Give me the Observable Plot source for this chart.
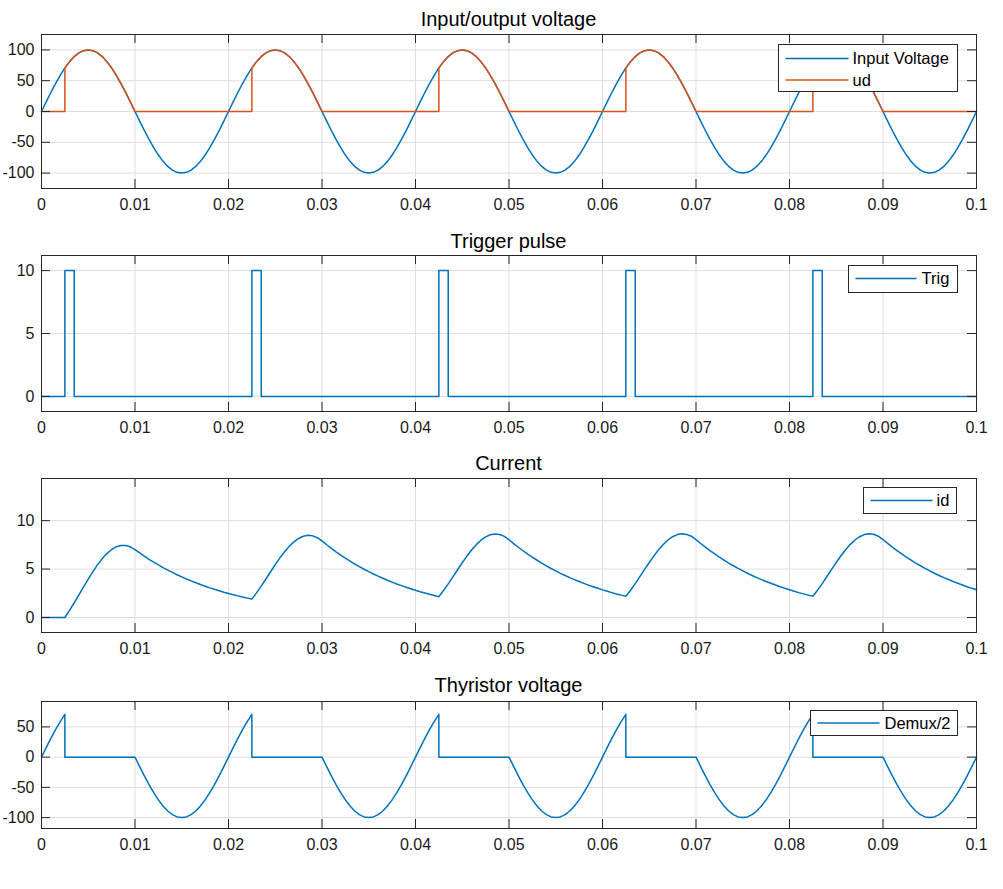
<!DOCTYPE html>
<html><head><meta charset="utf-8">
<script src="https://cdn.jsdelivr.net/npm/d3@7"></script>
<script src="https://cdn.jsdelivr.net/npm/@observablehq/plot@0.6"></script>
<style>
body{margin:0;background:#fff;}
#fig{position:relative;width:1003px;height:889px;font-family:"Liberation Sans",Arial,sans-serif;color:#262626;}
#fig svg{display:block;}
#fig svg.pan text{font-size:16px;font-family:"Liberation Sans",Arial,sans-serif;}
#overlay{position:absolute;left:0;top:0;pointer-events:none;}
</style></head><body><div id="fig"></div>
<script>
// ---------- data ----------
const xTicks = [0, 0.01, 0.02, 0.03, 0.04, 0.05, 0.06, 0.07, 0.08, 0.09, 0.1];
const titles = ["Input/output voltage", "Trigger pulse", "Current", "Thyristor voltage"];

const time = [
0,0.0005,0.001,0.0015,0.002,0.0025,0.0025,0.003,0.0035,0.004,0.0045,0.005,0.0055,0.006,0.0065,0.007,0.0075,0.008,0.0085,0.009,0.0095,0.01,0.0105,0.011,0.0115,0.012,0.0125,0.013,0.0135,0.014,0.0145,0.015,0.0155,0.016,0.0165,0.017,0.0175,0.018,0.0185,0.019,0.0195,
0.02,0.0205,0.021,0.0215,0.022,0.0225,0.0225,0.023,0.0235,0.024,0.0245,0.025,0.0255,0.026,0.0265,0.027,0.0275,0.028,0.0285,0.029,0.0295,0.03,0.0305,0.031,0.0315,0.032,0.0325,0.033,0.0335,0.034,0.0345,0.035,0.0355,0.036,0.0365,0.037,0.0375,0.038,0.0385,0.039,0.0395,
0.04,0.0405,0.041,0.0415,0.042,0.0425,0.0425,0.043,0.0435,0.044,0.0445,0.045,0.0455,0.046,0.0465,0.047,0.0475,0.048,0.0485,0.049,0.0495,0.05,0.0505,0.051,0.0515,0.052,0.0525,0.053,0.0535,0.054,0.0545,0.055,0.0555,0.056,0.0565,0.057,0.0575,0.058,0.0585,0.059,0.0595,
0.06,0.0605,0.061,0.0615,0.062,0.0625,0.0625,0.063,0.0635,0.064,0.0645,0.065,0.0655,0.066,0.0665,0.067,0.0675,0.068,0.0685,0.069,0.0695,0.07,0.0705,0.071,0.0715,0.072,0.0725,0.073,0.0735,0.074,0.0745,0.075,0.0755,0.076,0.0765,0.077,0.0775,0.078,0.0785,0.079,0.0795,
0.08,0.0805,0.081,0.0815,0.082,0.0825,0.0825,0.083,0.0835,0.084,0.0845,0.085,0.0855,0.086,0.0865,0.087,0.0875,0.088,0.0885,0.089,0.0895,0.09,0.0905,0.091,0.0915,0.092,0.0925,0.093,0.0935,0.094,0.0945,0.095,0.0955,0.096,0.0965,0.097,0.0975,0.098,0.0985,0.099,0.0995,
0.1];

const inputVoltage = [
0,15.6,30.9,45.4,58.8,70.7,70.7,80.9,89.1,95.1,98.8,100,98.8,95.1,89.1,80.9,70.7,58.8,45.4,30.9,15.6,0,-15.6,-30.9,-45.4,-58.8,-70.7,-80.9,-89.1,-95.1,-98.8,-100,-98.8,-95.1,-89.1,-80.9,-70.7,-58.8,-45.4,-30.9,-15.6,
0,15.6,30.9,45.4,58.8,70.7,70.7,80.9,89.1,95.1,98.8,100,98.8,95.1,89.1,80.9,70.7,58.8,45.4,30.9,15.6,0,-15.6,-30.9,-45.4,-58.8,-70.7,-80.9,-89.1,-95.1,-98.8,-100,-98.8,-95.1,-89.1,-80.9,-70.7,-58.8,-45.4,-30.9,-15.6,
0,15.6,30.9,45.4,58.8,70.7,70.7,80.9,89.1,95.1,98.8,100,98.8,95.1,89.1,80.9,70.7,58.8,45.4,30.9,15.6,0,-15.6,-30.9,-45.4,-58.8,-70.7,-80.9,-89.1,-95.1,-98.8,-100,-98.8,-95.1,-89.1,-80.9,-70.7,-58.8,-45.4,-30.9,-15.6,
0,15.6,30.9,45.4,58.8,70.7,70.7,80.9,89.1,95.1,98.8,100,98.8,95.1,89.1,80.9,70.7,58.8,45.4,30.9,15.6,0,-15.6,-30.9,-45.4,-58.8,-70.7,-80.9,-89.1,-95.1,-98.8,-100,-98.8,-95.1,-89.1,-80.9,-70.7,-58.8,-45.4,-30.9,-15.6,
0,15.6,30.9,45.4,58.8,70.7,70.7,80.9,89.1,95.1,98.8,100,98.8,95.1,89.1,80.9,70.7,58.8,45.4,30.9,15.6,0,-15.6,-30.9,-45.4,-58.8,-70.7,-80.9,-89.1,-95.1,-98.8,-100,-98.8,-95.1,-89.1,-80.9,-70.7,-58.8,-45.4,-30.9,-15.6,
0];

const ud = [
0,0,0,0,0,0,70.7,80.9,89.1,95.1,98.8,100,98.8,95.1,89.1,80.9,70.7,58.8,45.4,30.9,15.6,0,0,0,0,0,0,0,0,0,0,0,0,0,0,0,0,0,0,0,0,
0,0,0,0,0,0,70.7,80.9,89.1,95.1,98.8,100,98.8,95.1,89.1,80.9,70.7,58.8,45.4,30.9,15.6,0,0,0,0,0,0,0,0,0,0,0,0,0,0,0,0,0,0,0,0,
0,0,0,0,0,0,70.7,80.9,89.1,95.1,98.8,100,98.8,95.1,89.1,80.9,70.7,58.8,45.4,30.9,15.6,0,0,0,0,0,0,0,0,0,0,0,0,0,0,0,0,0,0,0,0,
0,0,0,0,0,0,70.7,80.9,89.1,95.1,98.8,100,98.8,95.1,89.1,80.9,70.7,58.8,45.4,30.9,15.6,0,0,0,0,0,0,0,0,0,0,0,0,0,0,0,0,0,0,0,0,
0,0,0,0,0,0,70.7,80.9,89.1,95.1,98.8,100,98.8,95.1,89.1,80.9,70.7,58.8,45.4,30.9,15.6,0,0,0,0,0,0,0,0,0,0,0,0,0,0,0,0,0,0,0,0,
0];

const trigTime = [0,0.0025,0.0025,0.0035,0.0035,0.0225,0.0225,0.0235,0.0235,0.0425,0.0425,0.0435,0.0435,0.0625,0.0625,0.0635,0.0635,0.0825,0.0825,0.0835,0.0835,0.1];
const trig = [0,0,10,10,0,0,10,10,0,0,10,10,0,0,10,10,0,0,10,10,0,0];

const id = [
0,0,0,0,0,0,0,0.73,1.52,2.34,3.17,3.97,4.74,5.45,6.08,6.60,7.02,7.30,7.44,7.44,7.30,7.01,6.66,6.33,6.01,5.71,5.43,5.15,4.89,4.65,4.41,4.19,3.98,3.78,3.58,3.40,3.23,3.06,2.91,2.76,2.61,
2.48,2.35,2.23,2.11,2.00,1.90,1.90,2.54,3.24,3.97,4.72,5.45,6.15,6.79,7.35,7.81,8.16,8.39,8.48,8.43,8.24,7.91,7.51,7.14,6.78,6.44,6.12,5.82,5.52,5.25,4.98,4.73,4.49,4.27,4.05,3.85,3.65,3.46,3.29,3.12,2.96,
2.81,2.66,2.53,2.39,2.27,2.15,2.15,2.78,3.47,4.19,4.93,5.65,6.34,6.97,7.52,7.98,8.32,8.54,8.62,8.57,8.37,8.03,7.63,7.25,6.89,6.54,6.22,5.91,5.61,5.33,5.06,4.81,4.56,4.33,4.11,3.91,3.71,3.52,3.34,3.17,3.01,
2.85,2.71,2.57,2.43,2.31,2.19,2.19,2.81,3.50,4.22,4.96,5.68,6.36,6.99,7.54,8.00,8.34,8.56,8.64,8.58,8.39,8.04,7.64,7.26,6.90,6.56,6.23,5.92,5.62,5.34,5.07,4.82,4.57,4.34,4.12,3.91,3.72,3.53,3.35,3.18,3.01,
2.86,2.71,2.57,2.44,2.31,2.19,2.19,2.82,3.50,4.23,4.96,5.68,6.37,7.00,7.55,8.00,8.34,8.56,8.64,8.59,8.39,8.05,7.65,7.26,6.90,6.56,6.23,5.92,5.62,5.34,5.07,4.82,4.57,4.34,4.12,3.92,3.72,3.53,3.35,3.18,3.01,
2.86];

const thyristorV = [
0,15.6,30.9,45.4,58.8,70.7,0,0,0,0,0,0,0,0,0,0,0,0,0,0,0,0,-15.6,-30.9,-45.4,-58.8,-70.7,-80.9,-89.1,-95.1,-98.8,-100,-98.8,-95.1,-89.1,-80.9,-70.7,-58.8,-45.4,-30.9,-15.6,
0,15.6,30.9,45.4,58.8,70.7,0,0,0,0,0,0,0,0,0,0,0,0,0,0,0,0,-15.6,-30.9,-45.4,-58.8,-70.7,-80.9,-89.1,-95.1,-98.8,-100,-98.8,-95.1,-89.1,-80.9,-70.7,-58.8,-45.4,-30.9,-15.6,
0,15.6,30.9,45.4,58.8,70.7,0,0,0,0,0,0,0,0,0,0,0,0,0,0,0,0,-15.6,-30.9,-45.4,-58.8,-70.7,-80.9,-89.1,-95.1,-98.8,-100,-98.8,-95.1,-89.1,-80.9,-70.7,-58.8,-45.4,-30.9,-15.6,
0,15.6,30.9,45.4,58.8,70.7,0,0,0,0,0,0,0,0,0,0,0,0,0,0,0,0,-15.6,-30.9,-45.4,-58.8,-70.7,-80.9,-89.1,-95.1,-98.8,-100,-98.8,-95.1,-89.1,-80.9,-70.7,-58.8,-45.4,-30.9,-15.6,
0,15.6,30.9,45.4,58.8,70.7,0,0,0,0,0,0,0,0,0,0,0,0,0,0,0,0,-15.6,-30.9,-45.4,-58.8,-70.7,-80.9,-89.1,-95.1,-98.8,-100,-98.8,-95.1,-89.1,-80.9,-70.7,-58.8,-45.4,-30.9,-15.6,
0];

const yTicks1 = [-100, -50, 0, 50, 100];
const yTicks2 = [0, 5, 10];
const yTicks3 = [0, 5, 10];
const yTicks4 = [-100, -50, 0, 50];

const BLUE = "#0072BD", ORANGE = "#D95319", AX = "#262626", GRID = "#dfdfdf";
const FONT = "'Liberation Sans', Arial, Helvetica, sans-serif";
const TICK_FS = 16, LEG_FS = 16.5, TITLE_FS = 20;

// ---------- helpers ----------
function rows(t, v) { return t.map((x, i) => ({t: x, v: v[i]})); }

function panel({height, marginTop, marginBottom, yDomain, yTicks, series}) {
  const W = 1003, ml = 41, mr = 27, tl = 9;
  const fw = W - ml - mr, fh = height - marginTop - marginBottom;
  const svg = Plot.plot({
    width: W, height, marginLeft: ml, marginRight: mr, marginTop, marginBottom,
    style: {fontFamily: FONT, fontSize: TICK_FS + "px", color: AX, background: "transparent", overflow: "visible"},
    x: {domain: [0, 0.1]},
    y: {domain: yDomain},
    marks: [
      Plot.gridX(xTicks, {stroke: GRID, strokeOpacity: 1}),
      Plot.gridY(yTicks, {stroke: GRID, strokeOpacity: 1}),
      ...series.map(s => Plot.line(s.data, {x: "t", y: "v", stroke: s.color, strokeWidth: 1.5})),
      Plot.frame({stroke: AX, strokeWidth: 1}),
      Plot.tickX(xTicks, {x: d => d, insetBottom: fh - tl, stroke: AX}),
      Plot.tickX(xTicks, {x: d => d, insetTop: fh - tl, stroke: AX}),
      Plot.tickY(yTicks, {y: d => d, insetRight: fw - tl, stroke: AX}),
      Plot.tickY(yTicks, {y: d => d, insetLeft: fw - tl, stroke: AX}),
      Plot.axisX(xTicks, {tickSize: 0, tickPadding: 10, tickFormat: d => String(d), label: null, fill: "#1a1a1a", fontSize: TICK_FS}),
      Plot.axisY(yTicks, {tickSize: 0, tickPadding: 7, tickFormat: d => String(d), label: null, fill: "#1a1a1a", fontSize: TICK_FS})
    ]
  });
  svg.classList.add("pan");
  return svg;
}

const fig = document.getElementById("fig");
fig.append(panel({height: 220, marginTop: 34, marginBottom: 32, yDomain: [-125, 125], yTicks: yTicks1,
  series: [{data: rows(time, inputVoltage), color: BLUE}, {data: rows(time, ud), color: ORANGE}]}));
fig.append(panel({height: 220, marginTop: 35, marginBottom: 29, yDomain: [-1.2, 11.2], yTicks: yTicks2,
  series: [{data: rows(trigTime, trig), color: BLUE}]}));
fig.append(panel({height: 220, marginTop: 38, marginBottom: 28, yDomain: [-1.55, 14.35], yTicks: yTicks3,
  series: [{data: rows(time, id), color: BLUE}]}));
fig.append(panel({height: 229, marginTop: 41, marginBottom: 61, yDomain: [-118, 92], yTicks: yTicks4,
  series: [{data: rows(time, thyristorV), color: BLUE}]}));

// ---------- titles & legends (overlay) ----------
const ov = d3.select(fig).append("svg").attr("id", "overlay").attr("width", 1003).attr("height", 889)
  .style("font-family", FONT);
const titleY = [19, 241, 463, 685];
titles.forEach((t, i) => ov.append("text").attr("x", 508.5).attr("y", titleY[i]).attr("dy", "0.35em")
  .attr("text-anchor", "middle").attr("font-size", TITLE_FS).attr("fill", "#000").text(t));

const legends = [
  {x: 778.5, y: 44.5, w: 179, h: 47, items: [{label: "Input Voltage", color: BLUE}, {label: "ud", color: ORANGE}], lx0: 7, lx1: 70, tx: 74, y0: 14, dyi: 21.5},
  {x: 848.5, y: 265.5, w: 109, h: 27, items: [{label: "Trig", color: BLUE}], lx0: 7, lx1: 68, tx: 73, y0: 13, dyi: 0},
  {x: 863.5, y: 487.5, w: 93, h: 26, items: [{label: "id", color: BLUE}], lx0: 7, lx1: 69, tx: 73, y0: 13, dyi: 0},
  {x: 810.5, y: 710.5, w: 147, h: 25, items: [{label: "Demux/2", color: BLUE}], lx0: 7, lx1: 69, tx: 74, y0: 12.5, dyi: 0}
];
legends.forEach(L => {
  const g = ov.append("g").attr("transform", `translate(${L.x},${L.y})`);
  g.append("rect").attr("width", L.w).attr("height", L.h).attr("fill", "#fff").attr("stroke", AX).attr("stroke-width", 1);
  L.items.forEach((it, k) => {
    const yy = L.y0 + k * L.dyi;
    g.append("line").attr("x1", L.lx0).attr("x2", L.lx1).attr("y1", yy).attr("y2", yy).attr("stroke", it.color).attr("stroke-width", 1.5);
    g.append("text").attr("x", L.tx).attr("y", yy).attr("dy", "0.35em").attr("font-size", LEG_FS).attr("fill", "#000").text(it.label);
  });
});
</script></body></html>
